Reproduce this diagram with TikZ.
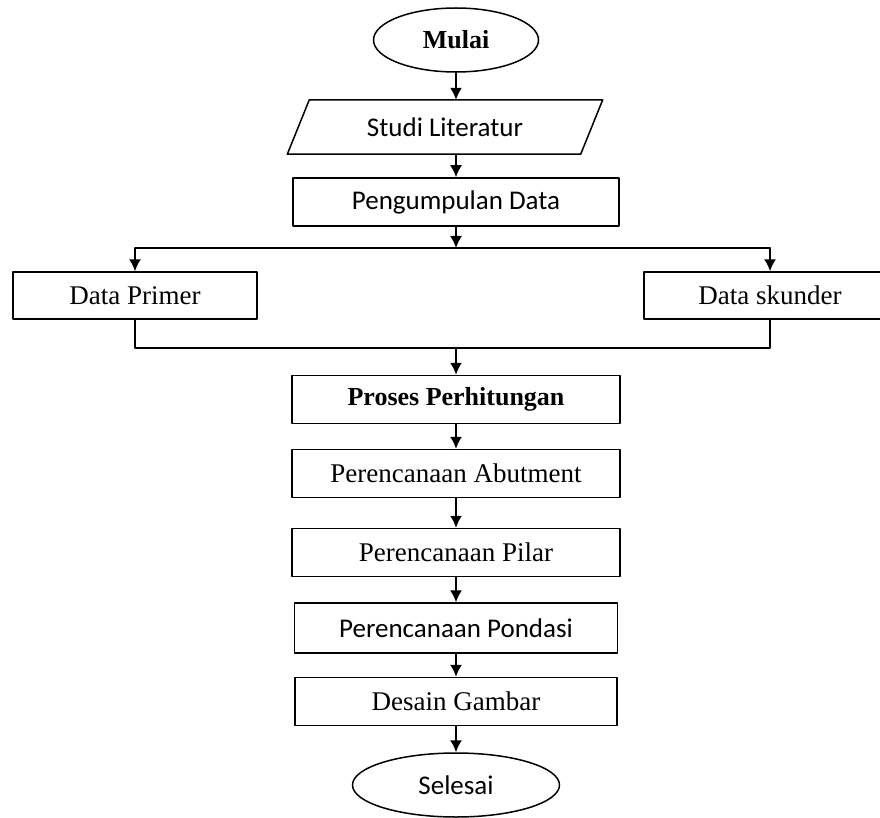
\documentclass[tikz,border=0pt]{standalone}
\usepackage{fontspec}
\setmainfont{Liberation Serif}
\newfontfamily\calibri{Carlito}
\usetikzlibrary{shapes.geometric,arrows.meta,calc}
\def\cx{456}
\def\w{328}
\def\h{48}
\def\slant{11}

\tikzset{
	flow/.style={line width=1.5pt},
	box/.style={flow, draw, rectangle, minimum width=\w, minimum height=\h, inner sep=0pt},
	term/.style={flow, draw, ellipse, inner sep=0pt},
	serif/.style={font=\fontsize{27}{32}\selectfont},
	serifb/.style={font=\fontsize{26}{31}\selectfont\bfseries},
	sans/.style={font=\calibri\fontsize{27}{32}\selectfont},
	arr/.style={flow, -{Latex[length=12pt,width=12pt]}}
}

\begin{document}
\begin{tikzpicture}[x=1pt, y=-1pt, line cap = round, line join = round]
		\useasboundingbox (0,0) rectangle (880,818);
		
		% Start
		\node[term, serifb, minimum width=165, minimum height=64] (mulai) at (\cx,40) {Mulai};
		
		% Input
		\node[sans, minimum width=293, minimum height=54, inner sep=0pt] (studi) at (445,127) {Studi Literatur};
		\draw[flow] ($(studi.north west)+(\slant,0)$) -- ($(studi.north east)+(\slant,0)$)
				-- ($(studi.south east)+(-\slant,0)$) -- ($(studi.south west)+(-\slant,0)$) -- cycle;
		
		\node[box, sans, minimum width=326] (data) at (\cx,202) {Pengumpulan Data};
		
		% Data sources
		\node[box, serif, minimum width=244, minimum height=47] (primer) at (135,295.5) {Data Primer};
		\node[box, serif, minimum width=252, minimum height=47] (skunder) at (770,295.5) {Data skunder};
		\coordinate (split) at (\cx,248);
		\coordinate (merge) at (\cx,348);
		
		% Process steps
		\node[box, serifb] (proses) at (\cx,399.5) {Proses Perhitungan};
		\node[box, serif] (abutment) at (\cx,473.5) {Perencanaan Abutment};
		\node[box, serif] (pilar) at (\cx,552.5) {Perencanaan Pilar};
		\node[box, sans, minimum width=323, minimum height=50] (pondasi) at (\cx,628) {Perencanaan Pondasi};
		\node[box, serif, minimum width=322] (desain) at (\cx,701.5) {Desain Gambar};
		
		% End
		\node[term, sans, minimum width=207, minimum height=64] (selesai) at (\cx,785) {Selesai};
		
		% Arrows
		\draw[arr] (mulai.south) -- (mulai |- studi.north);
		\draw[arr] (data |- studi.south) -- (data.north);
		\draw[arr] (data.south) -- (split);
		\draw[flow] (split -| primer) -- (split -| skunder);
		\draw[arr] (split -| primer) -- (primer.north);
		\draw[arr] (split -| skunder) -- (skunder.north);
		\draw[flow] (primer.south) -- (merge -| primer) -- (merge -| skunder) -- (skunder.south);
		\draw[arr] (merge) -- (proses.north);
		\foreach \a/\b in {proses/abutment, abutment/pilar, pilar/pondasi, pondasi/desain, desain/selesai} {
			\draw[arr] (\a.south) -- (\b.north);
		}
\end{tikzpicture}
\end{document}
